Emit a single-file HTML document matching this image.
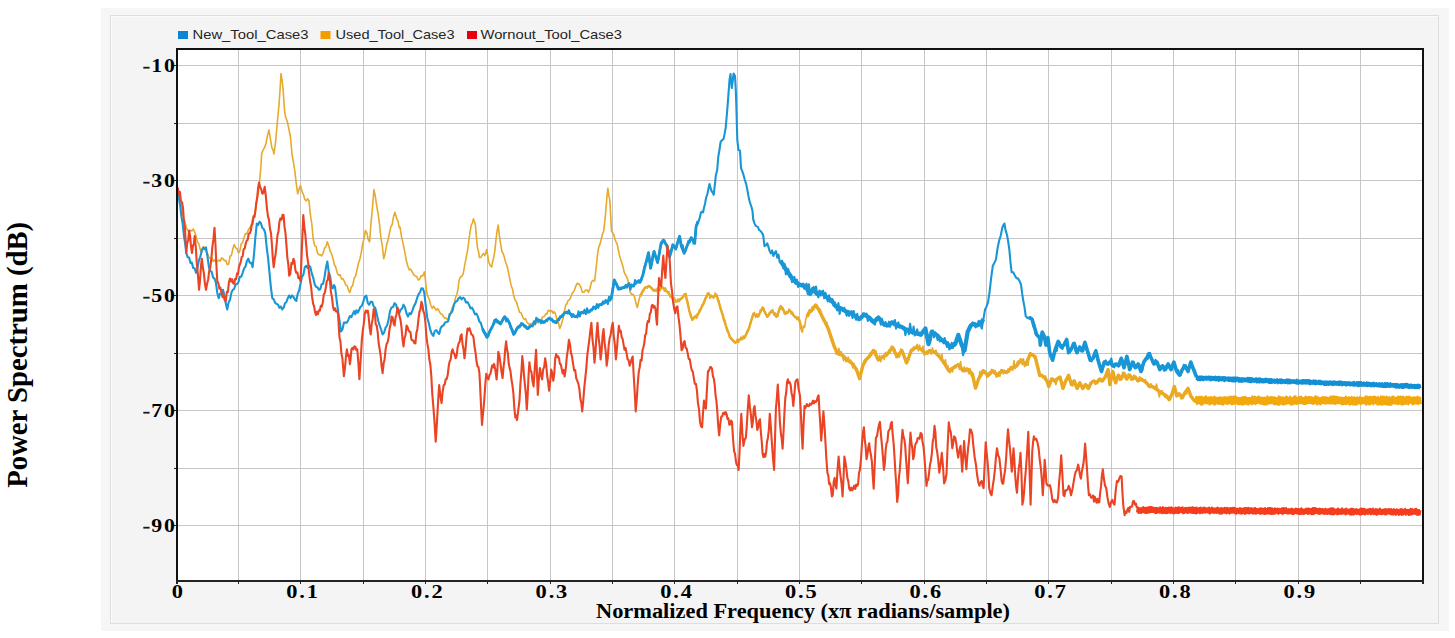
<!DOCTYPE html>
<html><head><meta charset="utf-8"><style>
html,body{margin:0;padding:0;background:#fff;width:1455px;height:638px;overflow:hidden}
svg{display:block;position:absolute;left:0;top:0}
.num{font-family:"Liberation Serif",serif;font-weight:bold;font-size:19.5px;fill:#000;letter-spacing:1.6px}
.leg{font-family:"Liberation Sans",sans-serif;font-size:13px;fill:#262626}
.ttl{font-family:"Liberation Serif",serif;font-weight:bold;fill:#000}
</style></head><body>
<svg width="1455" height="638" viewBox="0 0 1455 638">
<rect x="101" y="8" width="1348" height="623" fill="#f6f6f6"/>
<rect x="110" y="15" width="1329" height="609" fill="#dedede"/>
<rect x="111" y="16" width="1327" height="607" fill="#fbfbfb"/>
<rect x="112" y="17" width="1326" height="606" fill="#f4f4f4"/>
<g shape-rendering="crispEdges">
<rect x="178" y="50" width="1244" height="530" fill="#fff"/>
<rect x="238" y="50" width="1" height="530" fill="#c6c6c6"/><rect x="300" y="50" width="1" height="530" fill="#c6c6c6"/><rect x="363" y="50" width="1" height="530" fill="#c6c6c6"/><rect x="425" y="50" width="1" height="530" fill="#c6c6c6"/><rect x="487" y="50" width="1" height="530" fill="#c6c6c6"/><rect x="550" y="50" width="1" height="530" fill="#c6c6c6"/><rect x="612" y="50" width="1" height="530" fill="#c6c6c6"/><rect x="674" y="50" width="1" height="530" fill="#c6c6c6"/><rect x="737" y="50" width="1" height="530" fill="#c6c6c6"/><rect x="799" y="50" width="1" height="530" fill="#c6c6c6"/><rect x="861" y="50" width="1" height="530" fill="#c6c6c6"/><rect x="924" y="50" width="1" height="530" fill="#c6c6c6"/><rect x="986" y="50" width="1" height="530" fill="#c6c6c6"/><rect x="1048" y="50" width="1" height="530" fill="#c6c6c6"/><rect x="1111" y="50" width="1" height="530" fill="#c6c6c6"/><rect x="1173" y="50" width="1" height="530" fill="#c6c6c6"/><rect x="1235" y="50" width="1" height="530" fill="#c6c6c6"/><rect x="1298" y="50" width="1" height="530" fill="#c6c6c6"/><rect x="1360" y="50" width="1" height="530" fill="#c6c6c6"/><rect x="178" y="65" width="1244" height="1" fill="#c6c6c6"/><rect x="178" y="123" width="1244" height="1" fill="#c6c6c6"/><rect x="178" y="180" width="1244" height="1" fill="#c6c6c6"/><rect x="178" y="238" width="1244" height="1" fill="#c6c6c6"/><rect x="178" y="295" width="1244" height="1" fill="#c6c6c6"/><rect x="178" y="353" width="1244" height="1" fill="#c6c6c6"/><rect x="178" y="410" width="1244" height="1" fill="#c6c6c6"/><rect x="178" y="468" width="1244" height="1" fill="#c6c6c6"/><rect x="178" y="525" width="1244" height="1" fill="#c6c6c6"/>
</g>
<g>
<polyline fill="none" stroke="#1896d6" stroke-width="4.2" stroke-linejoin="round" points="780.9,261.7 787.1,270.9 793.2,280.0 799.3,284.6 805.4,286.1 810.0,293.8 812.5,289.3 817.2,294.0 821.9,292.5 826.6,297.2 831.3,300.3 836.0,306.6 840.8,308.2 845.5,311.3 850.2,312.9 854.9,316.0 859.6,319.1 864.3,314.4 869.0,317.6 873.7,322.3 878.4,317.6 883.1,323.8 887.8,325.4 892.5,322.3 897.2,325.4 901.9,327.0 906.6,330.1 911.3,331.7 916.0,333.2 920.7,334.8 925.4,328.5 928.5,344.2 931.7,331.7 936.4,334.8 941.1,339.5 945.8,342.6 950.5,347.3 955.2,344.2 958.3,334.8 961.4,344.2 964.6,350.5 967.7,331.7 970.8,325.4 974.0,323.8 977.1,325.4 980.3,323.8 983.4,319.1"/><polyline fill="none" stroke="#1896d6" stroke-width="2.8" stroke-linejoin="round" points="482.4,328.5 486.9,337.4 491.3,328.5 495.8,319.6 500.3,324.0 504.7,316.6 509.2,322.5 513.7,334.4 518.1,327.0 522.6,324.0 527.1,328.5 531.5,325.5 537.5,319.6 543.5,322.5 549.4,318.0 555.4,322.5 561.3,316.6 565.8,312.1 570.3,313.6 574.7,316.6 576.1,316.7 582.2,312.1 588.3,312.1 594.5,307.5 600.6,304.5 606.7,301.4 611.3,298.4 614.3,280.0 618.9,289.2 623.5,287.7 628.1,284.6 632.7,286.1 637.3,281.6 640.0,282.3 642.8,275.3 645.6,264.0 648.5,252.7 650.6,268.2 654.1,251.3 657.6,262.6 661.2,242.8 663.3,240.0 666.8,245.6 669.6,257.0 672.8,244.8 675.6,249.0 677.8,241.9 679.6,236.3 681.3,246.2 684.1,253.2 686.9,246.2 691.2,237.7 694.7,243.3 696.1,226.4 698.2,222.2"/><polyline fill="none" stroke="#1896d6" stroke-width="3.6" stroke-linejoin="round" points="1028.8,317.6 1032.0,319.1 1036.7,334.8 1039.8,337.9 1040.3,345.1 1042.2,332.0 1044.1,335.7 1046.0,345.1 1047.9,337.6 1049.7,352.7 1052.6,360.2 1055.4,348.9 1058.2,341.4 1061.0,347.0 1063.9,345.1 1066.7,339.5 1068.6,352.7 1071.4,348.9 1074.2,343.3 1077.0,352.7 1079.8,347.0 1082.7,350.8 1084.9,342.3 1087.4,350.8 1090.2,360.2 1093.0,358.3 1095.8,350.8 1098.6,362.1 1101.5,371.5 1104.3,362.1 1107.1,364.0 1109.9,362.1 1112.8,365.8 1115.6,364.0 1118.4,365.8 1121.2,358.3 1124.0,367.7 1126.9,356.4 1129.7,369.6 1132.5,362.1 1135.3,367.7 1138.1,364.0 1141.0,371.5 1143.8,362.1 1146.6,358.3 1148.9,353.6 1151.3,358.3 1154.1,364.0 1157.0,362.1 1159.8,369.6 1162.6,365.8 1165.4,369.6 1168.2,364.0 1171.1,369.6 1173.9,362.1 1176.7,371.5 1179.5,375.2 1182.3,369.6 1185.2,365.8 1188.0,371.5 1190.8,362.1 1193.6,369.6 1196.5,377.1"/><polyline fill="none" stroke="#eea715" stroke-width="3.4" stroke-linejoin="round" points="806.9,316.7 810.0,310.6 811.0,311.3 815.7,305.0 818.8,309.7 821.9,316.0 825.1,322.3 828.2,328.5 831.3,337.9 834.5,347.3 837.6,353.6 842.3,355.2 847.0,359.9 851.7,363.0 856.4,369.3 859.6,378.7 862.7,366.1 865.8,359.9 869.0,356.7 873.7,350.5 878.4,359.9 883.1,356.7 887.8,353.6 892.5,347.3 897.2,356.7 901.9,350.5 906.6,363.0 911.3,350.5 916.0,347.3 920.7,348.9 925.4,353.6 930.1,350.5 934.8,352.0 939.5,356.7 944.2,363.0 948.9,370.8 953.6,367.7 958.3,364.6 963.0,370.8 967.7,369.3 972.4,374.0 975.5,388.1 978.7,378.7 983.4,370.8 988.1,375.5 992.8,370.8 997.5,375.5 1002.2,370.8 1006.9,372.4 1011.6,367.7 1016.3,366.1 1021.0,359.9 1025.7,364.6 1030.4,353.6 1035.1,356.7 1039.8,375.5 1041.3,375.2 1044.1,377.1 1046.9,380.9 1048.8,386.5 1051.6,379.0 1054.5,380.9 1057.3,379.0 1060.1,377.1 1062.9,388.4 1065.7,380.9 1068.6,375.2 1071.4,384.6 1074.2,380.9 1077.0,388.4 1079.8,382.8 1082.7,388.4 1085.5,384.6 1088.3,388.4 1091.1,382.8 1093.9,380.9 1096.8,382.8 1099.6,379.0 1102.4,380.9 1105.2,377.1 1108.1,369.6 1109.9,384.6 1112.8,371.5 1115.6,382.8 1118.4,375.2 1121.2,379.0 1124.0,373.3 1126.9,379.0 1129.7,375.2 1132.5,379.0 1135.3,377.1 1138.1,380.9 1141.0,379.0 1143.8,380.9 1146.6,382.8 1149.4,386.5 1152.3,386.5 1155.1,388.4 1157.9,390.3 1160.7,392.2 1163.5,394.0 1166.4,395.9 1169.2,399.7 1172.0,394.0 1174.4,386.5 1176.7,395.9 1179.5,394.0 1182.3,397.8 1185.2,392.2 1188.0,388.4 1190.8,395.9 1193.6,399.7 1195.5,401.6"/><polyline fill="none" stroke="#eea715" stroke-width="2.4" stroke-linejoin="round" points="640.3,295.3 644.9,287.7 649.5,286.1 654.1,290.7 658.7,289.2 663.2,287.7 667.8,292.3 672.4,298.4 677.0,301.4 681.6,298.4 685.6,293.8 689.2,310.6 692.3,319.8 695.3,316.7 698.4,313.7 703.0,304.5 707.6,293.8 712.2,296.8 716.7,295.3 721.3,310.6 725.9,325.9 730.5,338.1 735.1,342.7 739.7,339.6 744.3,338.1 748.8,328.9 753.4,313.7 758.0,316.7 762.6,307.5 767.2,316.7 771.8,310.6 776.4,316.7 780.9,306.0 785.5,313.7 790.1,310.6 794.7,316.7 799.3,319.8 802.3,332.0"/>
<polyline fill="none" stroke="#e6aa2c" stroke-width="1.6" stroke-linejoin="round" points="177.8,186.8 179.2,195.6 180.6,200.5 182.0,210.8 183.4,217.6 184.9,221.6 186.3,227.7 187.7,230.3 189.0,232.0 190.4,230.2 191.9,231.0 193.3,229.0 194.7,232.0 196.0,236.0 197.5,241.9 198.9,244.1 200.4,250.0 201.8,252.3 203.2,246.7 204.6,247.4 206.0,251.7 207.5,253.2 208.9,257.3 210.3,258.6 211.7,257.4 213.1,261.5 214.5,259.7 215.9,262.1 217.3,261.5 218.7,260.0 220.2,261.1 221.6,257.9 223.0,258.7 224.4,260.8 225.8,260.4 227.2,264.4 228.6,264.4 230.0,256.3 231.4,255.5 232.8,249.0 234.2,244.6 235.6,247.8 237.1,248.7 238.5,253.0 239.9,250.8 241.2,243.9 242.6,242.6 244.0,237.6 245.4,233.6 246.9,233.7 248.4,229.7 249.8,227.7 251.2,225.2 252.6,218.6 254.0,216.4 255.4,209.8 256.8,200.9 258.2,193.8 259.6,180.8 261.0,165.6 261.6,154.0 263.0,150.2 264.4,147.9 265.8,144.0 267.4,136.1 269.0,130.0 270.5,139.5 272.0,148.0 273.0,149.8 274.0,154.0 275.7,140.8 277.3,122.7 279.0,104.5 280.0,90.5 281.0,73.5 282.0,80.0 283.0,88.0 284.7,112.8 285.9,117.8 287.2,121.0 288.9,129.0 290.5,137.5 292.0,154.0 293.5,162.8 294.9,171.4 296.3,184.1 297.7,193.8 299.1,188.9 300.5,185.4 301.9,191.3 303.4,194.4 304.8,199.5 306.2,200.9 307.6,198.8 309.0,201.0 310.4,214.8 311.8,223.9 313.2,239.0 314.6,245.3 316.1,246.7 317.5,253.0 318.9,254.9 320.3,254.5 321.7,256.0 323.1,253.3 324.5,248.2 325.9,246.9 327.3,241.8 328.7,245.7 330.1,250.8 331.6,254.1 333.0,258.7 334.4,264.6 335.8,267.4 337.2,272.8 338.6,275.4 340.0,274.6 341.5,278.9 342.9,278.7 344.3,281.3 345.7,285.0 347.1,285.4 348.5,290.2 349.9,292.6 351.3,287.0 352.7,285.6 354.2,277.9 355.6,276.1 357.0,270.0 358.4,263.6 359.8,259.3 361.2,253.0 362.6,244.4 364.0,238.8 365.4,230.5 366.8,232.7 368.2,239.6 369.6,241.8 371.0,222.9 372.5,207.7 373.9,189.6 375.3,196.0 376.7,206.0 378.1,213.6 379.5,224.1 380.9,237.9 382.3,245.7 383.7,258.7 385.1,254.1 386.5,245.3 388.0,240.3 389.4,233.3 390.8,226.8 392.2,224.3 393.6,216.2 395.0,212.2 396.4,217.8 397.9,220.9 399.3,227.7 400.0,227.0 401.5,236.6 403.0,243.3 404.6,250.8 406.1,259.6 407.6,265.5 409.2,269.8 410.7,269.1 412.2,271.9 413.8,274.9 415.3,276.0 416.8,276.6 418.3,280.0 419.7,279.2 421.0,275.7 422.4,276.0 423.4,274.5 424.4,271.9 425.4,279.7 426.5,291.0 427.9,296.7 429.4,299.7 430.8,305.5 432.2,308.2 433.6,306.2 435.0,308.3 436.4,310.3 437.8,308.7 439.2,311.2 440.6,313.8 442.1,314.2 443.5,316.8 444.9,318.5 446.3,318.1 447.7,319.6 449.1,317.7 450.5,314.0 451.9,308.5 453.3,305.5 454.5,302.7 455.7,296.9 456.9,294.2 458.0,289.1 459.1,280.0 460.5,277.0 461.8,276.3 463.2,273.9 464.7,265.1 466.2,257.6 467.8,248.8 469.3,237.2 470.3,230.3 471.3,225.0 472.4,223.1 473.4,218.9 474.4,221.4 475.4,225.0 476.4,236.9 477.4,247.4 478.4,251.0 479.5,257.6 481.0,257.3 482.5,254.6 483.6,253.4 484.6,255.6 485.6,253.8 486.6,249.5 487.6,254.5 488.6,261.7 490.1,265.3 491.7,266.8 492.7,261.2 493.7,257.6 494.8,250.8 495.8,241.3 497.0,231.4 498.2,225.0 499.2,234.3 500.2,241.3 501.9,251.5 503.4,254.0 504.9,259.6 505.9,263.2 507.0,265.8 508.5,272.4 510.0,280.0 511.2,285.7 512.5,289.0 513.7,295.7 515.2,300.2 516.6,302.3 518.1,307.6 519.6,312.2 521.1,312.9 522.6,316.6 524.1,319.5 525.6,318.7 527.1,322.5 528.6,324.1 530.0,323.4 531.5,325.5 532.7,325.5 533.9,321.8 535.1,324.9 536.3,322.7 537.5,322.5 538.7,322.6 539.9,319.7 541.1,320.5 542.3,317.3 543.5,316.6 544.7,315.8 545.9,313.5 547.0,314.0 548.2,310.3 549.4,310.6 550.6,311.8 551.8,310.6 553.0,313.3 554.2,311.6 555.4,313.6 556.9,319.0 558.3,322.3 559.8,328.5 561.3,324.5 562.8,319.6 564.3,311.8 565.8,304.7 566.9,304.0 568.0,300.6 569.1,300.0 570.5,298.1 571.8,293.9 573.2,292.3 574.6,289.7 575.9,285.8 577.3,283.1 578.3,284.3 579.3,284.1 580.8,287.0 582.4,292.3 583.9,292.2 585.4,290.2 587.0,290.0 588.5,292.3 590.0,288.3 591.5,282.1 593.0,280.4 594.6,281.0 595.6,272.9 596.6,263.7 597.7,253.0 598.7,247.4 600.2,243.6 601.7,237.2 602.7,233.3 603.7,231.1 604.8,221.7 605.8,210.7 606.8,198.4 607.8,188.3 608.8,195.2 609.9,200.6 611.5,231.1 612.9,233.2 614.0,235.1 615.0,239.3 616.0,242.1 617.0,243.4 618.0,248.1 619.0,253.5 620.5,259.0 622.1,263.7 623.1,267.2 624.1,271.9 625.7,275.4 627.2,278.0 628.7,283.8 630.2,292.3 631.6,294.3 632.9,294.3 634.3,296.3 635.8,302.4 637.3,307.5 638.8,300.8 640.3,295.3 641.4,295.7 642.6,290.6 643.8,290.7 644.9,287.7 646.0,286.8 647.2,288.3 648.4,285.6 649.5,286.1 650.6,287.7 651.8,287.7 653.0,290.6 654.1,290.7 655.2,289.3 656.4,291.6 657.6,287.7 658.7,289.2 660.2,290.6 661.7,287.0 663.2,287.7 664.4,291.2 665.5,288.1 666.6,291.7 667.8,292.3 668.9,291.6 670.1,297.2 671.2,296.1 672.4,298.4 673.5,300.6 674.7,297.9 675.9,302.3 677.0,301.4 678.1,298.9 679.3,301.6 680.5,298.4 681.6,298.4 682.9,297.5 684.3,293.8 685.6,293.8 686.8,301.1 688.0,302.4 689.2,310.6 690.8,317.2 692.3,319.8 693.8,316.8 695.3,316.7 696.8,318.3 698.4,313.7 699.5,309.5 700.7,309.7 701.9,304.9 703.0,304.5 704.1,303.7 705.3,297.7 706.5,297.9 707.6,293.8 708.8,292.6 709.9,298.4 711.1,295.3 712.2,296.8 713.7,298.2 715.2,293.0 716.7,295.3 717.9,299.7 719.0,301.2 720.1,308.6 721.3,310.6 722.4,313.0 723.6,320.7 724.8,319.9 725.9,325.9 727.0,331.3 728.2,331.5 729.4,337.1 730.5,338.1 731.6,337.9 732.8,341.3 734.0,340.7 735.1,342.7 736.2,342.7 737.4,338.8 738.6,342.4 739.7,339.6 740.9,337.0 742.0,339.8 743.1,335.9 744.3,338.1 745.8,335.5 747.3,330.6 748.8,328.9 749.9,325.9 751.1,320.2 752.2,318.0 753.4,313.7 754.5,312.4 755.7,317.5 756.9,313.7 758.0,316.7 759.1,315.6 760.3,309.7 761.5,311.0 762.6,307.5 763.8,308.0 764.9,312.8 766.1,313.4 767.2,316.7 768.4,316.1 769.5,312.2 770.6,313.3 771.8,310.6 772.9,309.9 774.1,315.3 775.2,312.9 776.4,316.7 777.9,316.5 779.4,307.7 780.9,306.0 782.0,309.9 783.2,308.0 784.4,314.0 785.5,313.7 786.6,311.5 787.8,313.2 789.0,309.0 790.1,310.6 791.2,313.9 792.4,312.1 793.6,316.0 794.7,316.7 795.9,316.6 797.0,319.7 798.1,316.8 799.3,319.8 800.8,327.9 802.3,332.0 803.4,325.9 804.6,327.4 805.8,319.1 806.9,316.7 808.5,316.0 810.0,310.6 811.0,311.3 812.2,306.8 813.4,310.1 814.5,304.8 815.7,305.0 817.2,308.2 818.8,309.7 820.3,309.3 821.9,316.0 823.5,321.3 825.1,322.3 826.7,322.2 828.2,328.5 829.8,334.7 831.3,337.9 832.9,340.7 834.5,347.3 836.0,353.9 837.6,353.6 838.8,348.2 840.0,355.2 841.1,351.5 842.3,355.2 843.5,360.7 844.6,355.7 845.8,361.8 847.0,359.9 848.2,357.2 849.4,362.5 850.5,360.0 851.7,363.0 852.9,368.0 854.0,363.6 855.2,369.8 856.4,369.3 858.0,373.2 859.6,378.7 861.2,373.8 862.7,366.1 864.2,360.4 865.8,359.9 867.4,359.4 869.0,356.7 870.2,352.6 871.4,355.5 872.5,349.8 873.7,350.5 874.9,354.7 876.0,350.8 877.2,359.1 878.4,359.9 879.6,355.6 880.8,361.6 881.9,356.1 883.1,356.7 884.3,359.4 885.5,352.3 886.6,356.5 887.8,353.6 889.0,350.1 890.1,353.1 891.3,346.4 892.5,347.3 893.7,351.3 894.9,349.3 896.0,357.4 897.2,356.7 898.4,353.0 899.5,357.1 900.7,349.0 901.9,350.5 903.1,355.0 904.2,355.2 905.4,362.0 906.6,363.0 907.8,358.5 909.0,359.4 910.1,352.5 911.3,350.5 912.5,351.0 913.6,346.9 914.8,349.0 916.0,347.3 917.2,344.4 918.4,350.9 919.5,345.1 920.7,348.9 921.9,351.3 923.0,346.1 924.2,355.1 925.4,353.6 926.6,351.0 927.8,354.2 928.9,349.7 930.1,350.5 931.3,354.3 932.5,347.8 933.6,353.4 934.8,352.0 936.0,350.1 937.1,355.2 938.3,353.7 939.5,356.7 940.7,359.6 941.9,353.9 943.0,363.3 944.2,363.0 945.4,359.7 946.5,368.4 947.7,365.5 948.9,370.8 950.1,372.9 951.2,367.6 952.4,372.0 953.6,367.7 954.8,365.4 956.0,367.8 957.1,364.6 958.3,364.6 959.5,369.5 960.6,361.5 961.8,370.6 963.0,370.8 964.2,366.9 965.4,371.9 966.5,367.7 967.7,369.3 968.9,373.9 970.0,368.6 971.2,375.9 972.4,374.0 974.0,378.6 975.5,388.1 977.1,385.0 978.7,378.7 979.9,371.4 981.0,376.0 982.2,370.2 983.4,370.8 984.6,372.8 985.8,371.5 986.9,377.6 988.1,375.5 989.3,371.7 990.5,374.1 991.6,369.2 992.8,370.8 994.0,373.4 995.1,370.6 996.3,377.2 997.5,375.5 998.7,371.7 999.9,376.3 1001.0,369.6 1002.2,370.8 1003.4,374.0 1004.5,370.2 1005.7,373.2 1006.9,372.4 1008.1,368.8 1009.2,371.9 1010.4,366.7 1011.6,367.7 1012.8,370.3 1014.0,360.5 1015.1,368.6 1016.3,366.1 1017.5,361.4 1018.6,363.8 1019.8,360.4 1021.0,359.9 1022.2,364.6 1023.4,358.9 1024.5,366.6 1025.7,364.6 1026.9,360.4 1028.1,365.3 1029.2,353.9 1030.4,353.6 1031.6,355.7 1032.8,354.0 1033.9,357.4 1035.1,356.7 1036.3,358.8 1037.4,366.9 1038.6,368.1 1039.8,375.5 1041.3,375.2 1042.7,377.8 1044.1,377.1 1045.5,376.0 1046.9,380.9 1048.8,386.5 1050.2,384.4 1051.6,379.0 1053.0,378.1 1054.5,380.9 1055.9,384.6 1057.3,379.0 1058.7,376.9 1060.1,377.1 1061.5,384.7 1062.9,388.4 1064.3,383.0 1065.7,380.9 1067.2,379.7 1068.6,375.2 1070.0,378.2 1071.4,384.6 1072.8,386.0 1074.2,380.9 1075.6,382.9 1077.0,388.4 1078.4,388.4 1079.8,382.8 1081.2,384.9 1082.7,388.4 1084.1,388.4 1085.5,384.6 1086.9,384.6 1088.3,388.4 1089.7,387.6 1091.1,382.8 1092.5,381.1 1093.9,380.9 1095.3,384.4 1096.8,382.8 1098.2,379.9 1099.6,379.0 1101.0,381.7 1102.4,380.9 1103.8,377.9 1105.2,377.1 1106.7,375.6 1108.1,369.6 1109.9,384.6 1111.3,377.0 1112.8,371.5 1114.2,380.2 1115.6,382.8 1117.0,377.7 1118.4,375.2 1119.8,380.5 1121.2,379.0 1122.6,372.4 1124.0,373.3 1125.5,379.5 1126.9,379.0 1128.3,373.8 1129.7,375.2 1131.1,380.2 1132.5,379.0 1133.9,375.1 1135.3,377.1 1136.7,380.9 1138.1,380.9 1139.5,376.8 1141.0,379.0 1142.4,381.3 1143.8,380.9 1145.2,379.6 1146.6,382.8 1148.0,385.7 1149.4,386.5 1150.8,383.7 1152.3,386.5 1153.7,388.3 1155.1,388.4 1156.5,384.1 1157.9,390.3 1159.3,396.9 1160.7,392.2 1162.1,390.7 1163.5,394.0 1165.0,397.5 1166.4,395.9 1167.8,395.9 1169.2,399.7 1170.6,398.8 1172.0,394.0 1173.2,388.2 1174.4,386.5 1175.6,392.0 1176.7,395.9 1178.1,392.8 1179.5,394.0 1180.9,398.8 1182.3,397.8 1183.8,393.0 1185.2,392.2 1186.6,394.0 1188.0,388.4 1189.4,391.1 1190.8,395.9 1192.2,398.8 1193.6,399.7 1195.5,401.6"/>
<polyline fill="none" stroke="#f3a80c" stroke-width="2.0" stroke-linejoin="round" points="1195.5,403.0 1196.2,396.8 1196.9,404.2 1197.6,397.2 1198.3,403.0 1199.0,396.8 1199.7,403.7 1200.4,397.0 1201.1,404.8 1201.8,396.6 1202.5,404.6 1203.2,397.9 1203.9,403.5 1204.6,397.1 1205.3,402.9 1206.0,396.2 1206.7,403.4 1207.4,397.6 1208.1,403.5 1208.8,397.6 1209.5,404.5 1210.2,397.1 1210.9,403.9 1211.6,397.3 1212.3,403.0 1213.0,397.5 1213.7,404.5 1214.4,396.6 1215.1,404.5 1215.8,397.6 1216.5,403.3 1217.2,398.0 1217.9,403.9 1218.6,397.4 1219.3,403.8 1220.0,397.2 1220.7,404.0 1221.4,397.4 1222.1,404.4 1222.8,397.7 1223.5,404.6 1224.2,397.1 1224.9,403.0 1225.6,397.5 1226.3,403.9 1227.0,397.3 1227.7,404.0 1228.4,397.5 1229.1,403.4 1229.8,396.6 1230.5,403.4 1231.2,396.8 1231.9,404.4 1232.6,397.0 1233.3,403.7 1234.0,396.3 1234.7,403.7 1235.4,396.4 1236.1,403.0 1236.8,397.3 1237.5,404.1 1238.2,398.0 1238.9,404.5 1239.6,398.0 1240.3,404.0 1241.0,397.8 1241.7,404.6 1242.4,397.0 1243.1,404.4 1243.8,397.2 1244.5,404.2 1245.2,396.8 1245.9,403.4 1246.6,397.7 1247.3,404.5 1248.0,397.9 1248.7,404.6 1249.4,397.7 1250.1,403.1 1250.8,398.0 1251.5,404.4 1252.2,396.3 1252.9,403.7 1253.6,396.9 1254.3,403.4 1255.0,396.4 1255.7,404.2 1256.4,397.8 1257.1,403.0 1257.8,396.8 1258.5,402.9 1259.2,396.5 1259.9,403.4 1260.6,397.7 1261.3,404.0 1262.0,397.5 1262.7,403.9 1263.4,397.8 1264.1,404.6 1264.8,397.5 1265.5,404.5 1266.2,397.8 1266.9,404.4 1267.6,396.2 1268.3,403.6 1269.0,398.1 1269.7,403.6 1270.4,396.9 1271.1,403.3 1271.8,397.1 1272.5,403.0 1273.2,397.2 1273.9,404.3 1274.6,397.3 1275.3,404.2 1276.0,397.9 1276.7,404.5 1277.4,397.9 1278.1,404.7 1278.8,396.2 1279.5,404.7 1280.2,397.1 1280.9,403.4 1281.6,397.5 1282.3,404.3 1283.0,397.2 1283.7,404.7 1284.4,398.0 1285.1,403.8 1285.8,396.5 1286.5,404.0 1287.2,397.1 1287.9,403.0 1288.6,397.9 1289.3,403.4 1290.0,396.4 1290.7,404.5 1291.4,397.7 1292.1,404.7 1292.8,398.1 1293.5,404.0 1294.2,396.3 1294.9,403.5 1295.6,396.3 1296.3,404.1 1297.0,398.0 1297.7,403.5 1298.4,397.3 1299.1,403.3 1299.8,396.7 1300.5,403.2 1301.2,396.6 1301.9,403.4 1302.6,398.0 1303.3,403.9 1304.0,397.9 1304.7,403.9 1305.4,396.6 1306.1,404.0 1306.8,397.2 1307.5,402.9 1308.2,397.1 1308.9,403.1 1309.6,396.9 1310.3,403.1 1311.0,397.0 1311.7,403.5 1312.4,397.4 1313.1,404.1 1313.8,397.8 1314.5,403.2 1315.2,396.3 1315.9,403.5 1316.6,396.5 1317.3,404.6 1318.0,397.2 1318.7,403.2 1319.4,398.0 1320.1,404.6 1320.8,397.9 1321.5,403.8 1322.2,397.1 1322.9,403.1 1323.6,397.2 1324.3,403.2 1325.0,397.1 1325.7,403.8 1326.4,397.4 1327.1,403.2 1327.8,397.4 1328.5,403.3 1329.2,397.9 1329.9,403.3 1330.6,396.4 1331.3,403.8 1332.0,396.4 1332.7,402.9 1333.4,396.3 1334.1,403.8 1334.8,396.6 1335.5,404.0 1336.2,396.8 1336.9,403.3 1337.6,396.7 1338.3,403.2 1339.0,397.6 1339.7,402.9 1340.4,397.4 1341.1,403.9 1341.8,397.6 1342.5,404.6 1343.2,398.0 1343.9,404.0 1344.6,397.7 1345.3,404.0 1346.0,396.6 1346.7,404.2 1347.4,398.0 1348.1,403.3 1348.8,397.0 1349.5,404.8 1350.2,398.1 1350.9,404.1 1351.6,396.8 1352.3,404.4 1353.0,397.5 1353.7,404.4 1354.4,397.2 1355.1,404.6 1355.8,398.1 1356.5,404.7 1357.2,397.3 1357.9,403.7 1358.6,398.0 1359.3,403.3 1360.0,396.7 1360.7,404.2 1361.4,397.8 1362.1,403.5 1362.8,397.9 1363.5,403.2 1364.2,397.7 1364.9,403.5 1365.6,396.2 1366.3,404.8 1367.0,396.6 1367.7,403.8 1368.4,397.2 1369.1,404.4 1369.8,396.4 1370.5,404.3 1371.2,396.9 1371.9,403.3 1372.6,396.9 1373.3,404.5 1374.0,396.6 1374.7,403.0 1375.4,396.7 1376.1,403.5 1376.8,397.8 1377.5,404.7 1378.2,396.8 1378.9,404.3 1379.6,397.9 1380.3,404.5 1381.0,396.3 1381.7,404.6 1382.4,396.7 1383.1,404.5 1383.8,396.6 1384.5,404.0 1385.2,397.3 1385.9,404.5 1386.6,396.6 1387.3,404.6 1388.0,397.6 1388.7,404.7 1389.4,397.1 1390.1,404.7 1390.8,397.9 1391.5,404.7 1392.2,396.6 1392.9,403.4 1393.6,396.5 1394.3,403.3 1395.0,397.8 1395.7,403.8 1396.4,397.7 1397.1,403.8 1397.8,396.4 1398.5,404.2 1399.2,396.8 1399.9,403.6 1400.6,396.6 1401.3,404.4 1402.0,396.8 1402.7,404.7 1403.4,396.5 1404.1,403.7 1404.8,398.0 1405.5,404.1 1406.2,396.5 1406.9,403.5 1407.6,397.0 1408.3,404.5 1409.0,396.6 1409.7,402.9 1410.4,397.2 1411.1,402.9 1411.8,397.9 1412.5,404.4 1413.2,397.3 1413.9,404.0 1414.6,397.2 1415.3,403.5 1416.0,397.7 1416.7,403.5 1417.4,396.5 1418.1,404.1 1418.8,397.6 1419.5,403.0 1420.2,397.6 1420.9,404.2"/>
<polyline fill="none" stroke="#1896d6" stroke-width="2.1" stroke-linejoin="round" points="177.8,188.0 179.0,198.8 180.2,205.9 181.4,216.4 182.7,223.8 183.9,235.5 185.1,243.2 186.3,253.0 187.7,257.2 189.1,257.6 190.5,262.9 191.8,262.4 193.2,268.0 194.6,268.3 196.0,272.8 197.4,268.5 198.9,260.2 200.4,256.5 201.8,250.0 203.2,247.6 204.6,249.2 206.0,247.4 207.4,256.1 208.9,267.2 210.3,270.8 211.7,271.9 213.1,277.6 214.5,278.5 215.9,282.7 217.3,292.9 218.7,298.2 220.1,293.5 221.6,293.2 223.0,289.8 224.4,295.4 225.8,303.6 227.2,309.5 228.6,302.5 230.0,299.7 231.4,292.6 232.8,289.8 234.2,288.8 235.6,284.4 237.0,284.0 238.4,282.3 239.8,276.7 241.3,276.6 242.7,272.8 244.1,268.3 245.5,266.5 246.9,261.0 248.3,258.7 249.7,262.7 251.2,262.8 252.6,267.2 254.0,254.5 255.4,237.1 256.8,223.5 258.2,224.9 259.6,221.7 261.0,223.5 262.4,228.0 263.9,229.2 265.3,233.3 266.7,247.5 268.1,258.3 269.5,272.8 270.9,287.3 272.3,298.2 273.7,299.4 275.2,302.9 276.6,303.9 278.0,304.7 279.4,307.7 280.8,306.5 282.2,309.5 283.6,307.6 285.0,303.2 286.4,301.9 287.8,298.2 289.2,295.4 290.6,298.1 292.0,295.4 293.4,296.7 294.9,299.6 296.3,301.0 297.7,293.9 299.1,290.7 300.5,284.0 301.9,276.9 303.4,274.6 304.8,267.2 306.2,265.8 307.6,267.8 309.0,265.6 310.4,267.2 311.8,273.6 313.2,277.7 314.6,284.0 316.0,286.8 317.5,287.4 318.9,289.8 320.3,289.3 321.6,284.2 323.0,284.0 324.4,278.0 325.9,267.9 327.3,261.5 328.7,271.7 330.2,276.8 331.6,287.0 332.7,288.5 333.9,285.1 335.0,286.8 336.5,299.2 338.0,310.6 339.5,320.5 341.0,331.5 342.5,329.2 343.9,322.6 345.4,322.5 346.9,322.6 348.4,319.6 349.9,316.0 351.4,317.1 352.9,313.6 354.1,311.1 355.3,314.3 356.4,310.2 357.6,312.6 358.8,310.6 360.3,307.1 361.8,305.8 363.3,301.7 364.8,296.8 366.3,295.7 367.8,303.1 369.2,304.7 370.7,301.7 372.2,301.7 373.7,306.5 375.2,307.7 376.7,313.6 378.2,320.8 379.7,325.5 381.1,329.5 382.6,334.4 384.1,332.5 385.6,327.6 387.1,325.5 388.6,319.6 390.1,310.6 391.6,307.4 393.1,306.9 394.6,303.2 396.1,304.8 397.5,311.0 399.0,313.6 400.5,310.0 402.0,308.6 403.5,304.7 405.0,307.4 406.5,313.3 408.0,316.6 409.5,313.2 410.9,314.2 412.4,310.6 413.9,306.1 415.4,303.6 416.9,298.7 418.4,294.7 419.9,292.5 421.4,288.3 422.9,288.5 424.3,292.8 425.8,306.3 427.3,318.0 428.8,323.0 430.3,330.0 431.8,333.9 433.3,336.0 434.8,331.0 436.3,330.0 437.8,332.5 439.2,334.0 440.7,328.0 442.2,326.0 443.7,325.2 445.2,322.2 446.7,322.0 448.2,321.3 449.6,314.1 451.1,313.0 452.6,310.6 454.1,304.0 455.6,301.7 457.1,301.0 458.6,298.3 460.1,297.2 461.6,299.4 463.0,297.5 464.5,298.7 466.0,302.5 467.5,302.0 469.0,304.7 470.5,308.4 472.0,307.7 473.5,310.6 475.0,314.3 476.4,313.6 477.9,316.6 479.4,321.6 480.9,323.1 482.4,328.5 483.9,332.8 485.4,332.7 486.9,337.4 488.4,336.3 489.8,330.3 491.3,328.5 492.8,326.2 494.3,320.2 495.8,319.6 497.3,322.6 498.8,321.4 500.3,324.0 501.8,322.5 503.2,318.0 504.7,316.6 506.2,321.4 507.7,318.8 509.2,322.5 510.7,328.1 512.2,329.6 513.7,334.4 515.2,333.2 516.6,328.5 518.1,327.0 519.6,327.5 521.1,323.2 522.6,324.0 524.1,326.4 525.6,325.7 527.1,328.5 528.6,328.8 530.0,325.6 531.5,325.5 532.7,326.3 533.9,321.4 535.1,323.9 536.3,317.7 537.5,319.6 538.7,321.7 539.9,319.9 541.1,323.3 542.3,320.5 543.5,322.5 544.7,322.5 545.9,320.3 547.0,321.3 548.2,318.4 549.4,318.0 550.6,319.9 551.8,318.7 553.0,322.0 554.2,321.0 555.4,322.5 556.6,323.1 557.8,319.6 558.9,320.4 560.1,316.2 561.3,316.6 562.8,316.6 564.3,312.6 565.8,312.1 567.3,313.3 568.8,310.1 570.3,313.6 571.8,317.0 573.2,314.2 574.7,316.6 576.1,316.7 577.3,317.4 578.5,311.2 579.8,316.4 581.0,312.3 582.2,312.1 583.4,313.4 584.6,309.7 585.9,314.1 587.1,308.4 588.3,312.1 589.5,312.2 590.8,309.7 592.0,310.3 593.3,306.5 594.5,307.5 595.7,309.2 596.9,304.1 598.2,308.0 599.4,304.3 600.6,304.5 601.8,305.1 603.0,301.4 604.3,303.4 605.5,300.0 606.7,301.4 607.9,304.1 609.0,296.8 610.1,300.7 611.3,298.4 612.8,288.5 614.3,280.0 615.4,284.2 616.6,283.7 617.8,289.1 618.9,289.2 620.0,287.5 621.2,289.2 622.4,287.2 623.5,287.7 624.6,288.0 625.8,284.9 627.0,287.6 628.1,284.6 629.2,283.1 630.4,289.7 631.6,284.5 632.7,286.1 633.9,286.5 635.0,280.1 636.1,283.6 637.3,281.6 638.6,280.1 640.0,282.3 641.4,280.3 642.8,275.3 644.2,267.5 645.6,264.0 647.0,260.6 648.5,252.7 649.5,259.8 650.6,268.2 651.8,263.5 652.9,253.9 654.1,251.3 655.3,255.9 656.4,257.4 657.6,262.6 658.8,257.3 660.0,248.9 661.2,242.8 662.2,243.5 663.3,240.0 664.5,240.4 665.6,244.3 666.8,245.6 668.2,249.5 669.6,257.0 671.2,251.9 672.8,244.8 674.2,245.9 675.6,249.0 676.7,247.0 677.8,241.9 679.6,236.3 681.3,246.2 682.7,245.2 684.1,253.2 685.5,251.3 686.9,246.2 688.3,241.1 689.8,242.3 691.2,237.7 692.4,238.3 693.5,243.5 694.7,243.3 696.1,226.4 697.2,221.9 698.2,222.2 699.6,218.4 701.0,212.3 702.0,211.5 703.1,212.3 703.9,208.1 705.0,203.9 706.0,198.2 707.4,194.0 708.5,188.4 709.5,184.1 710.5,187.9 711.6,191.2 712.7,192.5 713.7,194.7 715.1,182.7 715.8,175.6 717.2,170.0 718.3,156.5 719.5,149.8 720.6,142.0 722.0,140.2 723.5,139.1 724.6,133.9 725.7,127.7 727.0,113.0 728.2,97.6 729.5,80.0 730.5,74.0 731.8,88.0 733.6,73.5 735.0,76.0 735.8,90.0 736.3,105.0 736.8,122.0 737.3,140.0 738.5,150.0 740.0,150.7 741.0,168.0 742.1,170.9 743.3,174.2 744.8,179.7 746.2,184.1 747.2,189.1 748.3,195.4 749.3,200.3 750.4,203.9 751.5,207.0 752.5,210.9 753.2,219.4 754.6,223.6 755.7,225.8 756.7,226.4 757.9,226.9 759.1,230.1 760.3,230.6 761.7,232.5 763.1,234.9 764.5,246.2 765.9,245.4 767.3,243.3 768.3,246.4 769.4,250.4 770.8,253.3 772.1,250.4 773.4,255.9 774.8,252.5 776.0,251.2 777.2,257.6 778.5,254.7 779.7,262.1 780.9,261.7 782.1,260.6 783.4,268.5 784.6,263.8 785.9,274.3 787.1,270.9 788.3,269.1 789.5,276.6 790.8,274.9 792.0,282.1 793.2,280.0 794.4,276.9 795.6,283.8 796.9,279.7 798.1,286.9 799.3,284.6 800.5,283.8 801.7,286.2 803.0,283.5 804.2,288.7 805.4,286.1 806.5,283.6 807.7,294.0 808.9,284.2 810.0,293.8 811.2,294.5 812.5,289.3 813.7,286.9 814.9,293.0 816.0,286.5 817.2,294.0 818.4,297.3 819.5,290.5 820.7,295.6 821.9,292.5 823.1,290.7 824.2,298.3 825.4,292.7 826.6,297.2 827.8,301.5 829.0,295.2 830.1,301.9 831.3,300.3 832.5,299.2 833.6,305.8 834.8,302.5 836.0,306.6 837.2,310.5 838.4,303.1 839.6,314.0 840.8,308.2 842.0,308.0 843.1,310.8 844.3,307.8 845.5,311.3 846.7,315.8 847.9,310.7 849.0,315.9 850.2,312.9 851.4,311.1 852.5,318.0 853.7,311.0 854.9,316.0 856.1,319.8 857.2,313.9 858.4,320.3 859.6,319.1 860.8,316.7 862.0,317.8 863.1,313.3 864.3,314.4 865.5,316.3 866.6,313.7 867.8,320.9 869.0,317.6 870.2,317.1 871.4,321.7 872.5,319.5 873.7,322.3 874.9,324.6 876.0,318.1 877.2,320.4 878.4,317.6 879.6,317.8 880.8,324.6 881.9,318.8 883.1,323.8 884.3,326.0 885.5,322.1 886.6,326.4 887.8,325.4 889.0,321.7 890.1,326.7 891.3,321.5 892.5,322.3 893.7,325.2 894.9,320.0 896.0,328.5 897.2,325.4 898.4,322.4 899.5,327.4 900.7,325.7 901.9,327.0 903.1,329.2 904.2,327.4 905.4,335.1 906.6,330.1 907.8,328.5 909.0,334.2 910.1,323.7 911.3,331.7 912.5,333.7 913.6,326.6 914.8,335.4 916.0,333.2 917.2,329.4 918.4,334.9 919.5,332.5 920.7,334.8 921.9,334.5 923.0,330.3 924.2,331.6 925.4,328.5 927.0,335.0 928.5,344.2 930.1,342.6 931.7,331.7 932.9,330.4 934.0,337.3 935.2,332.4 936.4,334.8 937.6,339.9 938.8,335.4 939.9,341.5 941.1,339.5 942.3,339.3 943.5,343.3 944.6,338.0 945.8,342.6 947.0,347.0 948.1,342.2 949.3,349.4 950.5,347.3 951.7,342.7 952.9,348.0 954.0,342.7 955.2,344.2 956.8,341.7 958.3,334.8 959.8,337.2 961.4,344.2 963.0,355.1 964.6,350.5 966.2,338.1 967.7,331.7 969.2,330.3 970.8,325.4 972.4,322.4 974.0,323.8 975.5,327.4 977.1,325.4 978.7,320.8 980.3,323.8 981.8,328.6 983.4,319.1 985.0,309.6 986.5,306.6 988.1,301.8 989.7,290.9 991.2,277.5 992.8,265.8 994.3,263.1 995.9,259.6 997.5,248.6 999.1,240.8 1000.7,235.7 1002.2,228.2 1003.3,225.2 1004.4,223.5 1005.6,230.4 1006.9,234.5 1008.1,241.0 1009.4,250.2 1010.5,262.3 1011.6,272.1 1013.2,272.3 1014.7,275.2 1016.3,278.1 1017.9,278.4 1019.5,280.8 1021.0,284.6 1022.1,293.2 1023.2,300.3 1024.5,307.1 1025.7,316.0 1027.2,317.9 1028.8,317.6 1030.4,317.0 1032.0,319.1 1033.2,326.3 1034.3,324.8 1035.5,333.9 1036.7,334.8 1038.2,335.2 1039.8,337.9 1040.3,345.1 1042.2,332.0 1044.1,335.7 1046.0,345.1 1047.9,337.6 1049.7,352.7 1051.2,358.4 1052.6,360.2 1054.0,351.5 1055.4,348.9 1056.8,350.8 1058.2,341.4 1059.6,342.4 1061.0,347.0 1062.5,349.0 1063.9,345.1 1065.3,341.2 1066.7,339.5 1068.6,352.7 1070.0,351.8 1071.4,348.9 1072.8,343.2 1074.2,343.3 1075.6,351.5 1077.0,352.7 1078.4,348.0 1079.8,347.0 1081.2,351.5 1082.7,350.8 1083.8,344.5 1084.9,342.3 1086.2,349.4 1087.4,350.8 1088.8,352.9 1090.2,360.2 1091.6,361.4 1093.0,358.3 1094.4,352.8 1095.8,350.8 1097.2,359.6 1098.6,362.1 1100.0,365.5 1101.5,371.5 1102.9,367.7 1104.3,362.1 1105.7,360.3 1107.1,364.0 1108.5,364.7 1109.9,362.1 1111.3,358.5 1112.8,365.8 1114.2,367.4 1115.6,364.0 1117.0,363.6 1118.4,365.8 1119.8,365.0 1121.2,358.3 1122.6,359.9 1124.0,367.7 1125.5,364.0 1126.9,356.4 1128.3,360.3 1129.7,369.6 1131.1,367.7 1132.5,362.1 1133.9,361.9 1135.3,367.7 1136.7,367.6 1138.1,364.0 1139.5,364.5 1141.0,371.5 1142.4,370.2 1143.8,362.1 1145.2,358.5 1146.6,358.3 1147.8,358.9 1148.9,353.6 1150.1,353.1 1151.3,358.3 1152.7,363.3 1154.1,364.0 1155.5,359.8 1157.0,362.1 1158.4,366.6 1159.8,369.6 1161.2,365.7 1162.6,365.8 1164.0,370.8 1165.4,369.6 1166.8,364.8 1168.2,364.0 1169.7,368.7 1171.1,369.6 1172.5,363.7 1173.9,362.1 1175.3,369.4 1176.7,371.5 1178.1,370.1 1179.5,375.2 1180.9,375.0 1182.3,369.6 1183.8,364.8 1185.2,365.8 1186.6,369.7 1188.0,371.5 1189.4,365.9 1190.8,362.1 1192.2,367.6 1193.6,369.6 1195.0,370.5 1196.5,377.1"/>
<polyline fill="none" stroke="#138fd6" stroke-width="2.0" stroke-linejoin="round" points="1196.5,380.1 1197.2,375.8 1197.9,380.3 1198.6,376.8 1199.3,380.3 1200.0,376.3 1200.7,380.3 1201.4,376.4 1202.1,380.1 1202.8,376.4 1203.5,380.4 1204.2,376.9 1204.9,379.6 1205.6,376.5 1206.3,379.9 1207.0,376.7 1207.7,379.7 1208.4,376.4 1209.1,379.8 1209.8,376.4 1210.5,380.6 1211.2,376.8 1211.9,380.0 1212.6,376.7 1213.3,380.1 1214.0,377.0 1214.7,380.1 1215.4,376.4 1216.1,380.6 1216.8,377.1 1217.5,380.2 1218.2,376.8 1218.9,381.0 1219.6,376.7 1220.3,380.3 1221.0,377.3 1221.7,380.5 1222.4,376.9 1223.1,380.4 1223.8,377.1 1224.5,381.3 1225.2,377.0 1225.9,380.4 1226.6,377.8 1227.3,380.5 1228.0,377.2 1228.7,381.1 1229.4,377.4 1230.1,381.0 1230.8,377.6 1231.5,381.2 1232.2,377.4 1232.9,381.6 1233.6,377.4 1234.3,381.5 1235.0,377.2 1235.7,381.6 1236.4,377.5 1237.1,380.8 1237.8,377.6 1238.5,381.7 1239.2,377.9 1239.9,381.8 1240.6,378.2 1241.3,381.9 1242.0,378.0 1242.7,381.7 1243.4,378.2 1244.1,381.4 1244.8,378.2 1245.5,381.5 1246.2,378.5 1246.9,381.6 1247.6,377.7 1248.3,381.9 1249.0,377.8 1249.7,382.1 1250.4,377.9 1251.1,382.4 1251.8,378.0 1252.5,381.7 1253.2,378.6 1253.9,381.9 1254.6,378.9 1255.3,381.7 1256.0,378.1 1256.7,382.5 1257.4,378.7 1258.1,382.4 1258.8,378.3 1259.5,382.6 1260.2,378.3 1260.9,382.3 1261.6,379.1 1262.3,382.6 1263.0,378.9 1263.7,382.5 1264.4,378.9 1265.1,382.4 1265.8,378.4 1266.5,382.1 1267.2,378.9 1267.9,382.6 1268.6,378.9 1269.3,383.0 1270.0,379.1 1270.7,383.0 1271.4,378.9 1272.1,383.1 1272.8,379.5 1273.5,382.4 1274.2,379.4 1274.9,383.2 1275.6,379.7 1276.3,382.6 1277.0,379.0 1277.7,383.4 1278.4,379.7 1279.1,382.8 1279.8,379.2 1280.5,383.2 1281.2,379.2 1281.9,383.3 1282.6,379.7 1283.3,382.8 1284.0,380.0 1284.7,383.3 1285.4,379.9 1286.1,382.9 1286.8,379.2 1287.5,383.4 1288.2,379.6 1288.9,383.4 1289.6,379.6 1290.3,383.5 1291.0,380.0 1291.7,382.9 1292.4,380.3 1293.1,382.9 1293.8,380.0 1294.5,383.1 1295.2,380.4 1295.9,383.5 1296.6,379.5 1297.3,383.8 1298.0,380.3 1298.7,383.9 1299.4,380.4 1300.1,383.3 1300.8,380.4 1301.5,383.7 1302.2,380.0 1302.9,383.8 1303.6,380.0 1304.3,383.4 1305.0,379.9 1305.7,383.8 1306.4,380.0 1307.1,383.5 1307.8,380.1 1308.5,383.7 1309.2,380.1 1309.9,384.4 1310.6,380.4 1311.3,383.9 1312.0,381.1 1312.7,383.9 1313.4,380.2 1314.1,383.9 1314.8,380.5 1315.5,384.4 1316.2,380.6 1316.9,384.0 1317.6,381.2 1318.3,384.0 1319.0,380.4 1319.7,384.3 1320.4,380.8 1321.1,384.6 1321.8,381.2 1322.5,384.1 1323.2,381.5 1323.9,385.0 1324.6,381.5 1325.3,385.1 1326.0,381.3 1326.7,384.9 1327.4,381.5 1328.1,385.1 1328.8,381.5 1329.5,384.7 1330.2,381.3 1330.9,384.5 1331.6,381.6 1332.3,385.2 1333.0,381.6 1333.7,384.9 1334.4,381.2 1335.1,384.7 1335.8,381.8 1336.5,384.8 1337.2,381.7 1337.9,385.0 1338.6,381.5 1339.3,385.2 1340.0,381.3 1340.7,384.8 1341.4,381.5 1342.1,385.6 1342.8,382.0 1343.5,384.9 1344.2,381.9 1344.9,385.0 1345.6,381.9 1346.3,385.7 1347.0,382.3 1347.7,385.1 1348.4,382.0 1349.1,385.2 1349.8,382.3 1350.5,385.6 1351.2,382.5 1351.9,385.2 1352.6,382.3 1353.3,385.7 1354.0,381.7 1354.7,385.8 1355.4,382.7 1356.1,385.5 1356.8,382.0 1357.5,385.9 1358.2,382.0 1358.9,386.4 1359.6,382.0 1360.3,385.6 1361.0,382.0 1361.7,386.1 1362.4,382.8 1363.1,385.7 1363.8,382.2 1364.5,385.8 1365.2,383.0 1365.9,386.0 1366.6,382.2 1367.3,386.2 1368.0,382.5 1368.7,385.9 1369.4,382.8 1370.1,386.2 1370.8,383.1 1371.5,386.6 1372.2,383.0 1372.9,386.1 1373.6,382.4 1374.3,386.5 1375.0,383.3 1375.7,386.1 1376.4,382.9 1377.1,386.6 1377.8,383.6 1378.5,386.6 1379.2,382.9 1379.9,386.8 1380.6,383.5 1381.3,386.8 1382.0,383.1 1382.7,387.0 1383.4,383.7 1384.1,387.2 1384.8,382.9 1385.5,387.2 1386.2,383.0 1386.9,386.9 1387.6,383.0 1388.3,386.7 1389.0,383.8 1389.7,387.2 1390.4,383.1 1391.1,386.7 1391.8,383.9 1392.5,386.7 1393.2,383.7 1393.9,386.9 1394.6,384.0 1395.3,387.6 1396.0,383.7 1396.7,387.8 1397.4,383.9 1398.1,387.6 1398.8,384.4 1399.5,387.9 1400.2,384.2 1400.9,387.5 1401.6,384.0 1402.3,388.0 1403.0,384.0 1403.7,388.1 1404.4,384.0 1405.1,387.4 1405.8,383.8 1406.5,387.4 1407.2,383.7 1407.9,387.7 1408.6,384.5 1409.3,388.3 1410.0,384.5 1410.7,387.8 1411.4,384.5 1412.1,388.1 1412.8,384.9 1413.5,387.9 1414.2,384.8 1414.9,388.4 1415.6,385.0 1416.3,388.2 1417.0,384.8 1417.7,388.1 1418.4,384.6 1419.1,388.4 1419.8,385.0 1420.5,388.0"/>
<polyline fill="none" stroke="#ea4424" stroke-width="2.1" stroke-linejoin="round" points="177.8,188.2 178.9,194.6 179.9,191.9 180.9,200.8 182.0,202.3 183.0,207.9 183.9,220.8 184.9,227.7 186.3,253.0 187.2,243.0 188.2,240.3 189.1,230.5 190.1,236.0 191.0,246.4 192.0,253.0 192.9,245.8 193.8,244.1 194.7,236.0 195.8,247.3 196.8,263.6 197.9,274.3 199.0,289.8 199.9,281.8 200.9,266.9 201.8,258.7 202.9,268.0 203.9,273.3 204.9,283.6 206.0,289.8 207.1,283.6 208.2,279.4 209.2,270.9 210.3,267.2 211.4,258.2 212.4,246.7 213.4,239.4 214.5,227.7 215.4,243.2 216.4,265.2 217.3,281.3 218.4,283.4 219.4,288.8 220.4,287.6 221.5,292.6 222.6,297.3 223.7,295.5 224.7,300.3 225.8,301.0 226.9,291.7 227.9,292.0 228.9,282.3 230.0,278.5 231.1,281.6 232.1,279.1 233.1,283.2 234.2,284.0 235.1,278.9 236.1,279.1 237.1,273.4 238.0,274.3 238.9,267.1 239.9,264.4 240.8,261.8 241.8,256.8 242.7,256.2 243.6,249.4 244.6,248.7 245.5,244.6 246.6,240.7 247.7,239.7 248.7,233.8 249.8,233.3 250.7,230.9 251.7,225.3 252.6,223.7 253.5,216.4 254.5,217.0 255.4,210.8 256.3,202.7 257.2,197.3 258.1,188.3 259.0,182.6 260.1,187.0 261.3,189.5 262.4,193.8 263.5,192.8 264.7,186.8 265.8,195.7 266.9,208.1 268.0,216.4 269.0,219.8 270.0,228.8 271.0,233.3 271.9,244.0 272.8,258.0 273.7,267.2 274.7,259.1 275.6,254.2 276.6,244.6 277.5,235.0 278.5,231.3 279.4,222.0 280.4,218.4 281.5,219.7 282.6,214.8 283.6,215.0 284.5,226.9 285.5,233.1 286.4,244.6 287.3,257.1 288.3,264.3 289.2,275.7 290.3,274.0 291.4,263.0 292.4,264.0 293.5,258.7 294.4,261.3 295.4,270.2 296.3,272.8 297.4,272.6 298.4,278.1 299.4,277.3 300.5,281.3 301.4,261.1 302.4,235.6 303.3,215.0 304.3,226.8 305.2,233.3 306.2,244.6 307.1,255.7 308.1,262.4 309.0,272.8 310.1,281.3 311.1,286.9 312.1,296.9 313.2,303.9 314.1,306.4 315.1,312.3 316.0,315.0 316.9,311.7 317.9,314.2 318.9,310.2 319.8,310.7 320.8,305.9 321.7,306.7 322.8,302.4 323.8,294.4 324.8,292.7 325.9,287.0 326.8,280.9 327.8,279.8 328.7,272.8 329.8,279.4 330.9,291.6 331.9,296.9 333.0,306.7 334.0,310.2 335.0,308.3 336.0,311.4 337.0,311.1 338.0,313.6 338.8,326.8 339.5,337.4 340.5,341.8 341.4,353.6 342.4,358.3 343.1,366.6 343.9,376.1 344.9,368.6 345.9,357.0 346.9,349.3 347.9,355.9 348.9,355.1 349.9,364.2 350.6,359.0 351.4,349.3 352.4,347.8 353.4,349.5 354.4,346.4 355.4,346.8 356.3,349.9 357.3,349.3 358.4,363.3 359.4,379.1 360.6,361.0 361.8,340.4 362.8,330.4 363.8,323.6 364.8,313.6 365.8,310.6 366.8,312.3 367.8,310.6 368.8,317.8 369.7,328.4 370.7,334.4 371.7,324.1 372.7,318.9 373.7,309.1 374.7,310.3 375.7,324.3 376.7,325.5 377.7,332.5 378.7,343.8 379.7,349.3 380.7,356.0 381.6,366.2 382.6,373.2 383.6,363.6 384.6,359.4 385.6,349.3 386.6,344.1 387.6,342.2 388.6,337.4 389.6,328.6 390.6,324.4 391.6,316.6 392.6,317.4 393.6,323.3 394.6,325.5 395.6,317.2 396.5,314.5 397.5,307.6 398.5,309.6 399.5,316.4 400.5,319.6 401.5,327.5 402.5,339.1 403.5,346.4 404.5,338.2 405.5,335.0 406.5,325.5 407.5,326.8 408.4,330.2 409.4,331.5 410.4,331.9 411.4,339.5 412.4,340.4 413.4,340.5 414.4,343.1 415.4,343.4 416.4,333.1 417.4,328.9 418.4,319.6 419.4,311.7 420.4,309.5 421.4,301.7 422.4,304.9 423.3,311.0 424.3,313.6 425.3,321.1 426.3,335.2 427.3,343.4 428.3,348.9 429.3,359.3 430.3,364.2 431.3,376.0 432.3,394.3 433.3,405.9 434.5,421.9 435.7,441.7 436.7,426.5 437.7,408.9 438.4,396.3 439.2,385.1 440.4,396.2 441.6,403.0 442.6,392.2 443.7,385.1 444.7,384.5 445.7,379.3 446.7,379.1 447.7,375.1 448.7,366.3 449.7,361.3 450.7,359.4 451.6,351.8 452.6,349.3 453.6,352.9 454.6,354.4 455.6,358.3 456.6,355.8 457.6,347.6 458.6,343.4 459.6,342.0 460.6,335.8 461.6,334.4 462.6,344.6 463.5,349.0 464.5,358.3 465.5,349.3 466.5,337.1 467.5,328.5 468.5,330.3 469.5,328.2 470.5,331.5 471.5,334.6 472.5,334.9 473.5,337.4 474.5,346.8 475.5,352.1 476.5,361.3 477.5,366.3 478.4,366.8 479.4,373.2 480.0,383.6 481.0,405.3 482.0,425.0 482.8,415.7 483.5,409.0 484.4,398.0 485.4,383.3 486.3,373.7 487.4,378.0 488.5,379.4 489.4,375.1 490.4,374.1 491.3,369.5 492.2,365.4 493.2,367.3 494.1,363.9 495.4,370.0 496.6,379.4 497.5,367.9 498.3,351.9 499.4,355.6 500.5,363.9 501.6,372.3 502.6,378.0 503.5,367.4 504.4,360.2 505.2,349.4 506.1,341.3 507.0,349.1 507.9,353.3 508.7,363.3 509.6,368.1 510.5,371.3 511.5,380.0 512.4,385.0 513.4,393.4 514.3,407.4 515.3,417.4 516.1,415.4 517.0,420.0 518.2,410.8 519.5,400.5 520.4,383.8 521.4,371.6 522.3,356.1 523.2,365.2 524.2,377.5 525.1,386.4 526.0,395.6 526.8,409.7 527.7,394.8 528.5,376.4 529.4,362.4 530.5,370.3 531.5,372.2 532.5,381.3 533.6,386.4 534.9,366.4 536.1,349.7 537.0,373.7 537.8,394.9 538.8,379.8 539.9,368.1 541.0,374.8 542.1,379.4 543.1,369.6 544.2,366.8 545.2,358.2 546.2,364.8 547.2,376.0 548.1,382.0 549.1,390.6 550.2,381.5 551.2,369.5 552.2,373.2 553.3,380.8 554.3,373.2 555.2,358.4 556.2,354.0 557.1,357.2 558.1,356.2 559.0,358.2 559.9,363.9 560.9,364.5 561.8,369.5 562.7,373.4 563.7,369.9 564.6,376.5 565.7,369.4 566.8,357.0 567.8,350.3 568.9,339.9 570.0,344.3 571.0,352.9 572.0,356.5 573.1,363.9 574.1,370.4 575.2,370.1 576.2,378.1 577.3,380.8 578.3,383.4 579.4,389.2 580.3,398.5 581.3,402.9 582.2,411.5 583.2,401.4 584.3,387.3 585.3,377.9 586.3,368.3 587.3,355.1 588.3,347.3 589.3,339.8 590.4,330.4 591.4,322.8 592.4,338.5 593.5,347.4 594.5,362.6 595.5,351.7 596.5,334.3 597.5,322.8 598.5,337.0 599.6,345.3 600.6,359.5 601.6,351.2 602.6,335.4 603.6,329.0 604.6,342.8 605.7,351.3 606.7,365.6 607.7,358.3 608.7,345.0 609.7,338.1 610.7,334.7 611.8,326.8 612.8,322.8 613.8,336.2 614.9,345.4 615.9,359.5 616.9,348.9 617.9,336.0 618.9,325.9 619.8,331.8 620.7,330.8 621.7,337.4 622.6,338.8 623.5,344.2 624.5,349.8 625.6,347.9 626.6,353.4 627.6,359.3 628.6,360.0 629.6,365.6 630.6,363.1 631.7,358.8 632.7,356.5 633.7,375.5 634.7,391.7 635.7,411.5 636.7,400.2 637.8,382.9 638.8,371.7 639.7,367.4 640.6,359.9 641.6,360.7 642.5,350.4 643.4,347.3 644.3,343.1 645.2,334.9 646.1,333.9 647.0,324.6 648.0,320.8 648.9,322.0 649.9,313.6 650.8,312.3 651.8,305.4 652.7,304.9 653.6,307.6 654.6,306.2 655.5,309.0 656.2,317.6 657.0,324.6 658.0,300.0 659.0,278.0 660.1,284.1 661.2,286.5 662.2,269.7 663.3,255.5 664.3,269.2 665.4,278.0 666.5,260.1 667.5,245.6 668.5,252.6 669.6,258.3 671.0,283.7 672.0,290.9 673.1,302.0 674.2,308.9 675.3,313.3 676.3,307.2 677.4,306.3 678.5,317.2 679.5,324.6 680.5,336.0 681.6,350.3 682.6,348.6 683.6,342.5 684.6,341.2 685.6,347.5 686.7,348.8 687.7,353.4 688.7,358.9 689.8,359.3 690.8,365.6 691.8,370.3 692.8,371.6 693.8,377.9 694.8,383.7 695.9,383.7 696.9,390.1 697.9,402.6 699.0,409.1 700.0,421.9 701.0,426.3 702.1,427.3 703.0,413.0 704.0,400.6 705.0,407.1 705.9,408.6 707.0,388.2 708.0,371.3 709.0,370.8 710.1,367.3 711.0,367.0 712.0,368.7 712.9,376.2 713.8,378.6 714.7,384.6 715.6,395.6 716.4,400.7 717.3,411.3 718.2,425.7 719.2,435.3 720.2,424.4 721.3,416.6 722.2,416.2 723.1,413.0 724.0,412.6 724.9,414.3 725.7,412.1 726.6,413.9 727.5,419.0 728.4,418.4 729.3,424.6 730.2,424.4 731.1,420.6 732.0,421.9 733.0,438.4 734.1,451.3 735.0,453.7 736.0,461.9 736.9,465.2 737.7,464.9 738.6,469.9 739.5,452.9 740.4,430.4 741.3,413.9 742.3,432.4 743.4,445.9 744.6,439.7 745.8,437.9 746.8,425.6 747.8,408.6 748.8,395.3 749.9,407.2 750.9,415.0 752.0,427.3 752.9,421.7 753.7,408.8 754.6,406.0 755.5,415.7 756.4,421.2 757.3,429.9 758.2,427.4 759.1,421.0 760.0,419.3 760.9,432.7 761.7,440.9 762.6,453.9 763.5,457.3 764.4,453.9 765.3,456.6 766.2,451.4 767.0,441.7 767.9,437.9 768.8,430.0 769.8,413.9 770.8,426.4 771.9,443.3 773.0,458.5 774.1,469.9 775.0,438.6 775.9,408.6 776.8,398.7 777.8,384.6 778.8,401.3 779.9,421.9 780.8,432.6 781.7,439.0 782.6,448.6 783.5,432.8 784.4,413.3 785.3,398.0 786.2,392.8 787.0,382.1 787.9,379.3 788.8,383.1 789.7,382.2 790.6,384.6 791.5,392.7 792.4,396.5 793.3,406.0 794.3,394.8 795.4,382.0 796.5,379.9 797.5,379.3 798.7,389.6 799.9,395.3 800.8,411.6 801.7,433.1 802.6,448.6 803.5,425.5 804.5,406.0 805.6,407.8 806.8,404.0 807.9,406.0 808.9,406.1 809.9,403.6 810.9,404.8 811.9,403.3 812.9,400.7 813.9,403.5 814.9,401.1 815.9,402.0 816.8,400.5 817.7,396.9 818.6,395.3 819.5,412.3 820.3,424.0 821.2,440.6 822.3,427.0 823.4,411.3 824.3,423.3 825.2,437.9 826.3,457.8 827.4,472.6 828.3,475.4 829.1,484.0 830.0,483.2 831.0,487.8 831.9,496.5 832.8,494.9 833.7,481.9 834.6,477.9 835.5,484.7 836.4,488.6 837.5,470.3 838.6,456.6 839.5,466.8 840.4,475.2 841.5,483.4 842.6,496.5 843.5,478.3 844.4,456.6 845.5,462.4 846.5,469.9 847.4,478.1 848.3,481.1 849.2,488.6 850.2,490.4 851.2,487.5 852.2,490.4 853.2,488.6 854.2,485.7 855.2,488.9 856.2,484.5 857.2,485.9 858.1,484.2 859.0,473.0 859.9,469.9 861.0,458.9 862.0,443.3 863.0,432.5 863.9,427.3 864.8,440.3 865.6,446.2 866.5,459.2 867.4,454.8 868.3,447.3 869.2,443.3 870.1,450.8 871.0,455.2 871.9,461.9 872.8,476.7 873.7,488.6 874.8,462.5 875.9,437.9 877.0,436.1 878.0,429.9 879.0,424.7 879.9,421.9 881.0,435.2 882.0,445.9 883.0,457.3 883.9,469.9 884.8,463.5 885.6,450.6 886.5,443.3 887.4,441.8 888.3,431.8 889.2,429.9 890.1,428.9 890.9,423.5 891.8,421.9 892.7,434.5 893.6,443.1 894.5,456.6 895.4,472.3 896.3,485.1 897.2,501.9 898.1,494.8 898.9,478.2 899.8,469.9 900.7,457.2 901.6,441.7 902.5,429.9 903.4,436.3 904.3,439.2 905.2,445.9 906.1,460.1 906.9,469.9 907.8,483.2 908.7,468.4 909.6,447.2 910.5,432.6 911.4,442.8 912.3,448.1 913.2,459.2 914.1,455.2 914.9,446.5 915.8,443.3 916.7,442.5 917.6,438.3 918.5,437.9 919.6,438.8 920.6,433.0 921.7,433.9 922.6,442.1 923.5,446.5 924.4,456.6 925.5,472.3 926.5,485.9 927.4,479.6 928.2,480.0 929.1,472.6 930.0,464.9 930.9,460.7 931.8,453.9 932.7,442.0 933.6,437.7 934.5,425.9 935.4,432.2 936.2,447.1 937.1,451.3 938.2,460.1 939.3,472.6 940.5,464.7 941.8,452.9 943.0,466.5 944.1,483.4 945.3,480.5 946.5,474.0 947.6,446.5 948.8,422.3 949.8,429.5 950.7,431.7 951.5,438.8 952.3,448.2 953.2,443.1 954.2,436.4 955.2,437.4 956.3,443.5 957.2,451.6 958.2,457.6 959.4,450.1 960.6,445.8 961.4,459.5 962.2,471.7 963.2,455.3 964.1,441.1 965.2,456.3 966.4,469.3 967.2,458.0 968.1,448.2 969.0,441.1 970.0,429.4 971.1,430.0 972.3,434.1 973.5,446.8 974.7,457.6 975.9,464.3 977.0,474.0 978.2,481.7 979.4,485.8 980.5,482.3 981.7,481.1 982.7,485.6 983.6,488.1 984.7,463.9 985.7,442.3 986.7,452.8 987.6,462.3 988.4,472.9 989.2,488.1 990.4,493.3 991.6,495.2 992.8,485.8 993.9,478.7 994.9,469.7 996.0,456.8 997.0,448.2 998.1,455.2 999.3,457.6 1000.5,468.7 1001.7,481.1 1002.5,483.7 1003.3,483.4 1004.2,475.6 1005.2,469.3 1006.1,458.5 1007.1,441.9 1008.0,429.4 1009.0,440.1 1009.9,448.2 1010.8,458.1 1011.8,471.7 1012.6,462.2 1013.5,448.2 1014.3,459.0 1015.1,474.0 1016.0,485.5 1017.0,492.8 1018.0,477.7 1018.9,467.0 1019.7,462.4 1020.5,452.9 1021.5,474.6 1022.4,504.6 1023.2,500.8 1024.0,492.8 1025.0,479.5 1025.9,469.3 1027.1,452.2 1028.3,431.7 1029.4,466.0 1030.6,504.6 1031.4,479.3 1032.3,450.5 1033.1,442.0 1033.9,436.4 1035.1,439.6 1036.3,438.8 1037.4,442.2 1038.6,448.2 1039.8,460.1 1041.0,469.3 1041.9,480.1 1042.8,495.2 1043.8,479.1 1044.7,459.9 1045.6,470.7 1046.4,483.4 1047.6,485.4 1048.7,485.8 1049.9,485.0 1051.1,490.5 1052.2,498.8 1053.4,502.2 1054.6,499.9 1055.8,502.2 1056.9,502.4 1058.1,497.5 1059.1,482.0 1060.2,470.3 1061.2,455.2 1062.3,473.5 1063.5,495.2 1064.4,496.1 1065.4,490.4 1066.3,490.5 1067.5,489.7 1068.7,485.8 1069.8,488.6 1071.0,495.2 1072.2,490.6 1073.4,483.4 1074.6,476.3 1075.7,471.7 1076.9,470.1 1078.1,464.6 1079.0,468.6 1080.0,475.4 1080.9,478.7 1082.1,469.9 1083.3,464.6 1084.2,456.6 1085.1,443.5 1086.0,455.0 1087.0,469.3 1088.0,484.8 1088.9,495.2 1090.0,494.3 1091.1,497.6 1092.2,497.5 1093.1,495.5 1094.0,501.6 1094.8,496.9 1095.7,499.9 1096.6,502.7 1097.5,498.7 1098.4,502.5 1099.3,502.2 1100.2,492.4 1101.0,486.7 1101.9,475.7 1102.8,469.3 1103.9,478.8 1105.1,485.8 1106.3,488.3 1107.5,497.5 1108.7,503.6 1109.8,506.9 1111.0,502.2 1112.2,499.9 1113.3,502.8 1114.5,504.6 1115.7,490.6 1116.9,481.1 1118.1,481.8 1119.2,478.7 1120.4,476.0 1121.6,476.4 1122.4,491.6 1123.2,504.6 1124.6,515.2 1125.6,511.6 1126.5,513.0 1127.5,509.3 1128.4,507.9 1129.2,511.9 1130.1,506.8 1131.0,506.9 1132.0,506.6 1133.0,501.2 1134.0,501.1 1135.0,504.6 1135.9,503.6 1136.9,508.1"/>
<polyline fill="none" stroke="#f53c1c" stroke-width="2.0" stroke-linejoin="round" points="1137.0,512.4 1137.7,507.3 1138.4,512.9 1139.1,508.1 1139.8,512.8 1140.5,508.2 1141.2,513.0 1141.9,508.0 1142.6,512.2 1143.3,506.9 1144.0,512.3 1144.7,508.0 1145.4,513.1 1146.1,507.4 1146.8,513.1 1147.5,507.7 1148.2,512.6 1148.9,506.9 1149.6,512.6 1150.3,506.9 1151.0,512.1 1151.7,507.1 1152.4,512.1 1153.1,507.6 1153.8,511.9 1154.5,508.1 1155.2,513.2 1155.9,507.7 1156.6,513.1 1157.3,508.0 1158.0,512.4 1158.7,508.2 1159.4,512.7 1160.1,507.2 1160.8,512.7 1161.5,507.9 1162.2,513.3 1162.9,507.1 1163.6,512.9 1164.3,508.3 1165.0,512.9 1165.7,507.8 1166.4,513.3 1167.1,507.9 1167.8,512.9 1168.5,507.6 1169.2,512.5 1169.9,507.7 1170.6,513.0 1171.3,507.2 1172.0,512.7 1172.7,508.0 1173.4,513.4 1174.1,508.4 1174.8,513.2 1175.5,507.5 1176.2,512.8 1176.9,507.9 1177.6,513.1 1178.3,507.2 1179.0,513.1 1179.7,507.5 1180.4,512.1 1181.1,508.1 1181.8,512.3 1182.5,507.2 1183.2,513.4 1183.9,508.4 1184.6,512.9 1185.3,507.7 1186.0,512.2 1186.7,508.0 1187.4,513.2 1188.1,507.7 1188.8,512.5 1189.5,507.5 1190.2,512.6 1190.9,507.8 1191.6,512.8 1192.3,507.2 1193.0,513.1 1193.7,507.5 1194.4,513.1 1195.1,508.1 1195.8,513.6 1196.5,507.6 1197.2,513.2 1197.9,508.3 1198.6,512.4 1199.3,507.9 1200.0,513.4 1200.7,507.5 1201.4,512.7 1202.1,508.5 1202.8,513.0 1203.5,507.4 1204.2,512.5 1204.9,507.7 1205.6,512.5 1206.3,508.3 1207.0,512.3 1207.7,508.3 1208.4,512.8 1209.1,507.4 1209.8,513.7 1210.5,508.5 1211.2,512.7 1211.9,507.4 1212.6,512.6 1213.3,508.3 1214.0,512.9 1214.7,508.6 1215.4,512.7 1216.1,508.2 1216.8,512.9 1217.5,507.4 1218.2,512.7 1218.9,508.5 1219.6,513.7 1220.3,508.2 1221.0,513.6 1221.7,507.9 1222.4,513.5 1223.1,508.4 1223.8,512.6 1224.5,507.8 1225.2,513.1 1225.9,508.1 1226.6,513.4 1227.3,507.8 1228.0,512.8 1228.7,508.4 1229.4,513.7 1230.1,508.1 1230.8,512.8 1231.5,508.0 1232.2,512.8 1232.9,507.8 1233.6,512.5 1234.3,507.7 1235.0,513.3 1235.7,508.4 1236.4,513.8 1237.1,508.6 1237.8,512.8 1238.5,508.9 1239.2,513.3 1239.9,507.9 1240.6,513.5 1241.3,508.4 1242.0,513.7 1242.7,508.8 1243.4,513.0 1244.1,508.1 1244.8,513.9 1245.5,508.1 1246.2,513.5 1246.9,507.9 1247.6,513.1 1248.3,507.7 1249.0,513.6 1249.7,508.5 1250.4,513.1 1251.1,507.9 1251.8,513.1 1252.5,508.8 1253.2,513.8 1253.9,508.3 1254.6,513.3 1255.3,508.1 1256.0,513.9 1256.7,508.9 1257.4,513.1 1258.1,509.0 1258.8,513.2 1259.5,508.4 1260.2,513.9 1260.9,508.2 1261.6,513.5 1262.3,508.5 1263.0,513.5 1263.7,508.7 1264.4,513.9 1265.1,508.0 1265.8,513.9 1266.5,508.9 1267.2,513.6 1267.9,508.1 1268.6,513.4 1269.3,507.9 1270.0,514.0 1270.7,508.1 1271.4,513.9 1272.1,508.3 1272.8,514.0 1273.5,509.0 1274.2,513.7 1274.9,508.2 1275.6,513.6 1276.3,508.8 1277.0,512.8 1277.7,508.4 1278.4,513.9 1279.1,508.8 1279.8,513.1 1280.5,508.9 1281.2,512.9 1281.9,508.3 1282.6,514.2 1283.3,508.1 1284.0,513.3 1284.7,508.3 1285.4,512.9 1286.1,508.1 1286.8,513.3 1287.5,509.3 1288.2,513.7 1288.9,509.1 1289.6,513.2 1290.3,509.2 1291.0,513.5 1291.7,508.5 1292.4,514.0 1293.1,509.3 1293.8,514.1 1294.5,509.2 1295.2,513.2 1295.9,508.5 1296.6,513.4 1297.3,508.9 1298.0,513.7 1298.7,509.1 1299.4,514.0 1300.1,509.1 1300.8,514.1 1301.5,508.2 1302.2,513.7 1302.9,509.4 1303.6,514.1 1304.3,509.4 1305.0,513.7 1305.7,508.8 1306.4,513.0 1307.1,508.5 1307.8,514.0 1308.5,508.6 1309.2,513.5 1309.9,508.7 1310.6,513.8 1311.3,509.1 1312.0,514.2 1312.7,508.0 1313.4,514.2 1314.1,508.1 1314.8,513.5 1315.5,508.1 1316.2,513.1 1316.9,508.8 1317.6,513.2 1318.3,508.9 1319.0,514.0 1319.7,508.5 1320.4,513.7 1321.1,509.0 1321.8,513.3 1322.5,509.0 1323.2,513.5 1323.9,509.3 1324.6,514.1 1325.3,508.8 1326.0,513.7 1326.7,509.3 1327.4,514.1 1328.1,509.3 1328.8,513.5 1329.5,508.8 1330.2,514.1 1330.9,508.2 1331.6,514.2 1332.3,508.2 1333.0,514.5 1333.7,508.6 1334.4,514.2 1335.1,509.5 1335.8,513.5 1336.5,509.6 1337.2,514.4 1337.9,508.6 1338.6,514.1 1339.3,509.3 1340.0,513.7 1340.7,509.4 1341.4,514.1 1342.1,508.3 1342.8,513.6 1343.5,509.6 1344.2,513.5 1344.9,509.2 1345.6,514.5 1346.3,508.6 1347.0,513.9 1347.7,509.6 1348.4,513.4 1349.1,509.5 1349.8,514.4 1350.5,509.1 1351.2,514.7 1351.9,508.4 1352.6,514.4 1353.3,509.1 1354.0,514.5 1354.7,509.6 1355.4,513.5 1356.1,509.0 1356.8,514.0 1357.5,509.5 1358.2,513.7 1358.9,509.8 1359.6,514.6 1360.3,508.8 1361.0,514.7 1361.7,508.4 1362.4,514.0 1363.1,508.8 1363.8,513.9 1364.5,508.7 1365.2,514.6 1365.9,509.7 1366.6,513.4 1367.3,509.6 1368.0,514.2 1368.7,509.3 1369.4,513.4 1370.1,508.7 1370.8,514.5 1371.5,509.2 1372.2,513.5 1372.9,508.6 1373.6,514.2 1374.3,509.8 1375.0,513.9 1375.7,509.0 1376.4,514.7 1377.1,509.2 1377.8,514.4 1378.5,509.6 1379.2,513.8 1379.9,508.6 1380.6,514.0 1381.3,509.8 1382.0,514.3 1382.7,509.8 1383.4,513.8 1384.1,509.3 1384.8,514.3 1385.5,509.1 1386.2,514.5 1386.9,509.4 1387.6,513.6 1388.3,509.0 1389.0,513.6 1389.7,509.3 1390.4,514.1 1391.1,509.1 1391.8,514.6 1392.5,509.7 1393.2,514.5 1393.9,509.1 1394.6,514.3 1395.3,509.9 1396.0,514.9 1396.7,509.2 1397.4,513.7 1398.1,509.7 1398.8,515.0 1399.5,509.8 1400.2,514.2 1400.9,509.0 1401.6,514.8 1402.3,509.2 1403.0,514.7 1403.7,510.1 1404.4,513.8 1405.1,508.7 1405.8,514.8 1406.5,510.1 1407.2,513.7 1407.9,509.8 1408.6,515.0 1409.3,509.8 1410.0,514.7 1410.7,508.8 1411.4,514.6 1412.1,508.9 1412.8,514.1 1413.5,510.0 1414.2,513.7 1414.9,509.1 1415.6,513.9 1416.3,508.8 1417.0,514.8 1417.7,509.9 1418.4,514.9 1419.1,510.0 1419.8,514.5 1420.5,510.1"/>
</g>
<g shape-rendering="crispEdges" fill="#111">
<rect x="176" y="48" width="1248" height="2"/>
<rect x="176" y="48" width="2" height="534"/>
<rect x="1422" y="48" width="2" height="534"/>
<rect x="176" y="580" width="1248" height="2" fill="#222"/>
<rect x="174" y="65" width="2" height="1" fill="#222"/><rect x="174" y="123" width="2" height="1" fill="#222"/><rect x="174" y="180" width="2" height="1" fill="#222"/><rect x="174" y="238" width="2" height="1" fill="#222"/><rect x="174" y="295" width="2" height="1" fill="#222"/><rect x="174" y="353" width="2" height="1" fill="#222"/><rect x="174" y="410" width="2" height="1" fill="#222"/><rect x="174" y="468" width="2" height="1" fill="#222"/><rect x="174" y="525" width="2" height="1" fill="#222"/><rect x="238" y="582" width="1" height="2" fill="#222"/><rect x="300" y="582" width="1" height="2" fill="#222"/><rect x="363" y="582" width="1" height="2" fill="#222"/><rect x="425" y="582" width="1" height="2" fill="#222"/><rect x="487" y="582" width="1" height="2" fill="#222"/><rect x="550" y="582" width="1" height="2" fill="#222"/><rect x="612" y="582" width="1" height="2" fill="#222"/><rect x="674" y="582" width="1" height="2" fill="#222"/><rect x="737" y="582" width="1" height="2" fill="#222"/><rect x="799" y="582" width="1" height="2" fill="#222"/><rect x="861" y="582" width="1" height="2" fill="#222"/><rect x="924" y="582" width="1" height="2" fill="#222"/><rect x="986" y="582" width="1" height="2" fill="#222"/><rect x="1048" y="582" width="1" height="2" fill="#222"/><rect x="1111" y="582" width="1" height="2" fill="#222"/><rect x="1173" y="582" width="1" height="2" fill="#222"/><rect x="1235" y="582" width="1" height="2" fill="#222"/><rect x="1298" y="582" width="1" height="2" fill="#222"/><rect x="1360" y="582" width="1" height="2" fill="#222"/><rect x="176" y="582" width="2" height="2" fill="#222"/><rect x="1422" y="582" width="2" height="2" fill="#222"/>
</g>
<text class="num" x="176.7" y="72.4" text-anchor="end" transform="translate(176.7 0) scale(1.12 1) translate(-176.7 0)">10</text><rect x="143.3" y="66.8" width="6.3" height="1.8" fill="#1a1a1a"/><text class="num" x="176.7" y="187.4" text-anchor="end" transform="translate(176.7 0) scale(1.12 1) translate(-176.7 0)">30</text><rect x="143.3" y="181.8" width="6.3" height="1.8" fill="#1a1a1a"/><text class="num" x="176.7" y="302.4" text-anchor="end" transform="translate(176.7 0) scale(1.12 1) translate(-176.7 0)">50</text><rect x="143.3" y="296.8" width="6.3" height="1.8" fill="#1a1a1a"/><text class="num" x="176.7" y="417.4" text-anchor="end" transform="translate(176.7 0) scale(1.12 1) translate(-176.7 0)">70</text><rect x="143.3" y="411.8" width="6.3" height="1.8" fill="#1a1a1a"/><text class="num" x="176.7" y="532.4" text-anchor="end" transform="translate(176.7 0) scale(1.12 1) translate(-176.7 0)">90</text><rect x="143.3" y="526.8" width="6.3" height="1.8" fill="#1a1a1a"/>
<text class="num" x="178.4" y="597.9" text-anchor="middle" transform="translate(178.4 0) scale(1.15 1) translate(-178.4 0)">0</text><text class="num" x="303.0" y="597.9" text-anchor="middle" transform="translate(303.0 0) scale(1.15 1) translate(-303.0 0)">0.1</text><text class="num" x="427.7" y="597.9" text-anchor="middle" transform="translate(427.7 0) scale(1.15 1) translate(-427.7 0)">0.2</text><text class="num" x="552.4" y="597.9" text-anchor="middle" transform="translate(552.4 0) scale(1.15 1) translate(-552.4 0)">0.3</text><text class="num" x="677.0" y="597.9" text-anchor="middle" transform="translate(677.0 0) scale(1.15 1) translate(-677.0 0)">0.4</text><text class="num" x="801.7" y="597.9" text-anchor="middle" transform="translate(801.7 0) scale(1.15 1) translate(-801.7 0)">0.5</text><text class="num" x="926.3" y="597.9" text-anchor="middle" transform="translate(926.3 0) scale(1.15 1) translate(-926.3 0)">0.6</text><text class="num" x="1051.0" y="597.9" text-anchor="middle" transform="translate(1051.0 0) scale(1.15 1) translate(-1051.0 0)">0.7</text><text class="num" x="1175.7" y="597.9" text-anchor="middle" transform="translate(1175.7 0) scale(1.15 1) translate(-1175.7 0)">0.8</text><text class="num" x="1300.3" y="597.9" text-anchor="middle" transform="translate(1300.3 0) scale(1.15 1) translate(-1300.3 0)">0.9</text>
<rect x="178" y="31" width="10" height="8" fill="#0a84d4"/>
<text class="leg" x="192.5" y="39" textLength="116" lengthAdjust="spacingAndGlyphs">New_Tool_Case3</text>
<rect x="320.5" y="31" width="10" height="8" fill="#f59c00"/>
<text class="leg" x="335.5" y="39" textLength="119" lengthAdjust="spacingAndGlyphs">Used_Tool_Case3</text>
<rect x="467" y="31" width="10" height="8" fill="#e8000c"/>
<text class="leg" x="480.5" y="39" textLength="141.5" lengthAdjust="spacingAndGlyphs">Wornout_Tool_Case3</text>
<text class="ttl" x="596" y="617.7" font-size="20" textLength="414" lengthAdjust="spacingAndGlyphs">Normalized Frequency (xπ radians/sample)</text>
<text class="ttl" font-size="29" transform="translate(27 487.8) rotate(-90)" textLength="266" lengthAdjust="spacingAndGlyphs">Power Spectrum (dB)</text>
</svg>
</body></html>
